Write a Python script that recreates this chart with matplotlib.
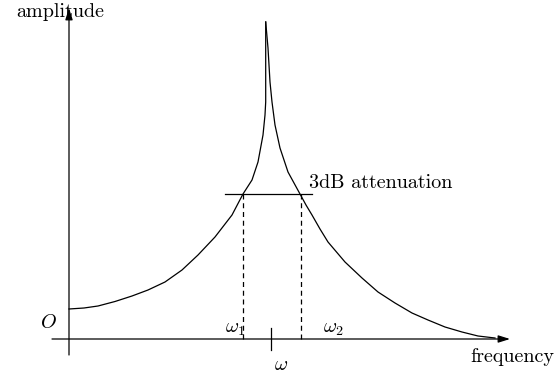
import matplotlib
matplotlib.use("Agg")
import matplotlib.pyplot as plt

plt.rcParams['mathtext.fontset'] = 'cm'

# resonance curve (arbitrary units)
freq_left = [0.00, 0.15, 0.29, 0.46, 0.63, 0.79, 0.96, 1.13, 1.29, 1.46,
             1.63, 1.74, 1.83, 1.89, 1.94, 1.96, 1.967, 1.967]
amp_left = [0.30, 0.31, 0.33, 0.375, 0.43, 0.49, 0.57, 0.69, 0.84, 1.02,
            1.24, 1.45, 1.59, 1.77, 2.04, 2.24, 2.37, 3.17]
freq_right = [1.967, 1.99, 2.01, 2.03, 2.06, 2.11, 2.19, 2.31, 2.37, 2.43,
              2.51, 2.59, 2.76, 2.93, 3.09, 3.26, 3.43, 3.59, 3.76, 3.93,
              4.09, 4.26]
amp_right = [3.17, 2.91, 2.57, 2.37, 2.14, 1.91, 1.67, 1.45, 1.34, 1.24,
             1.10, 0.97, 0.77, 0.61, 0.47, 0.36, 0.26, 0.19, 0.12, 0.07,
             0.03, 0.01]

w0 = 2.02          # centre frequency
w1, w2 = 1.74, 2.32  # half power points
level_3db = 1.45
line_3db = (1.56, 2.43)

x_axis = (-0.17, 4.41)
y_axis = (-0.16, 3.31)

fig = plt.figure(figsize=(5.54, 3.76), dpi=100)
ax = fig.add_axes([0, 0, 1, 1])
ax.set_xlim(-0.69, 4.85)
ax.set_ylim(-0.37, 3.39)
ax.axis('off')

# axes with arrows
arrow = dict(arrowstyle='-|>,head_length=0.7,head_width=0.22', color='black',
             lw=0.9, shrinkA=0, shrinkB=0)
ax.annotate('', xy=(x_axis[1], 0), xytext=(x_axis[0], 0), arrowprops=arrow)
ax.annotate('', xy=(0, y_axis[1]), xytext=(0, y_axis[0]), arrowprops=arrow)

ax.plot(freq_left, amp_left, color='black', lw=0.9, solid_joinstyle='round')
ax.plot(freq_right, amp_right, color='black', lw=0.9, solid_joinstyle='round')

ax.plot(line_3db, [level_3db, level_3db], color='black', lw=0.9)
ax.plot([w1, w1], [0, level_3db], color='black', lw=0.9, ls=(0, (4, 3)))
ax.plot([w2, w2], [0, level_3db], color='black', lw=0.9, ls=(0, (4, 3)))
ax.plot([w0, w0], [-0.11, 0.11], color='black', lw=0.9)

txt = dict(family='cmr10', fontsize=14.5)
ax.text(-0.09, 3.27, 'amplitude', ha='center', va='center', **txt)
ax.text(4.43, -0.18, 'frequency', ha='center', va='center', **txt)
ax.text(3.12, 1.56, '3dB attenuation', ha='center', va='center', **txt)
ax.text(1.66, 0.11, r'$\omega_1$', ha='center', va='center', fontsize=14.5)
ax.text(2.64, 0.11, r'$\omega_2$', ha='center', va='center', fontsize=14.5)
ax.text(2.12, -0.25, r'$\omega$', ha='center', va='center', fontsize=14.5)
ax.text(-0.21, 0.16, r'$O$', ha='center', va='center', fontsize=14.5)

fig.savefig('out.png', dpi=100)
